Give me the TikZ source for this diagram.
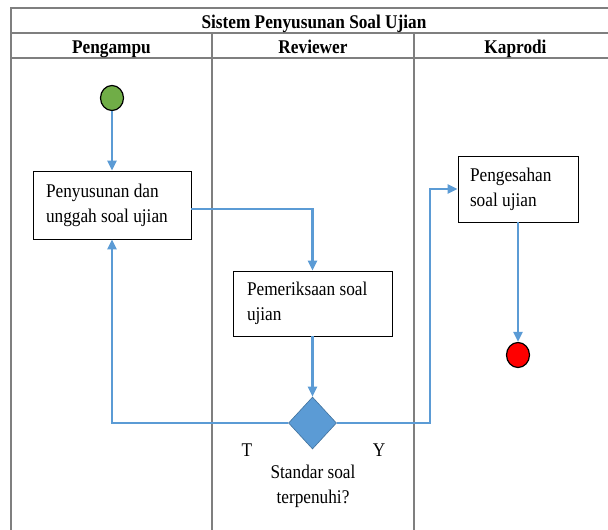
\documentclass[tikz,border=0pt]{standalone}
\usepackage{fontspec}
\setmainfont{Liberation Serif}[FakeStretch=0.89]
\usetikzlibrary{shapes.geometric,arrows.meta,calc}
\definecolor{flowblue}{HTML}{5B9BD5}
\definecolor{flowedge}{HTML}{41719C}
\definecolor{startgreen}{HTML}{70AD47}
\definecolor{lanegray}{HTML}{7F7F7F}
\begin{document}
\begin{tikzpicture}[x=1pt,y=-1pt,
  lane/.style={draw=lanegray,line width=1.1pt},
  txt/.style={font=\fontsize{19.4}{25}\selectfont,inner sep=0pt},
  head/.style={font=\fontsize{19.4}{25}\selectfont\bfseries,inner sep=0pt,
    anchor=base},
  stepbox/.style={draw=black,line width=0.8pt,fill=white,align=flush left,
    font=\fontsize{19.4}{25}\selectfont,inner ysep=0pt},
  terminal/.style={ellipse,draw=black,line width=1.2pt,minimum width=23pt,
    minimum height=25pt,inner sep=0pt},
  decision/.style={diamond,draw=flowedge,line width=0.6pt,fill=flowblue,
    minimum width=48pt,minimum height=52pt,inner sep=0pt},
  flow/.style={draw=flowblue,line width=2.2pt,
    -{Triangle[length=10pt,width=9pt]}}]
\useasboundingbox (0,0) rectangle (608,530);
\begin{scope}
\clip (0,0) rectangle (608,530);
% swimlane frame
\draw[lane] (11,530) -- (11,8) -- (620,8);
\draw[lane] (11,33) -- (620,33);
\draw[lane] (11,58) -- (620,58);
\draw[lane] (212,33) -- (212,530);
\draw[lane] (414,33) -- (414,530);
\end{scope}
% titles
\node[head] (title) at (314,28) {Sistem Penyusunan Soal Ujian};
\node[head] (lane1) at (111.5,53) {Pengampu};
\node[head] (lane2) at (313,53) {Reviewer};
\node[head] (lane3) at (515.5,53) {Kaprodi};
% activity nodes
\node[terminal,fill=startgreen] (start) at (112,98) {};
\node[stepbox,inner xsep=13pt,text width=132pt,minimum height=68pt]
  (b1) at (112,205) {Penyusunan dan\\unggah soal ujian};
\node[stepbox,inner xsep=14pt,text width=131pt,minimum height=65pt]
  (b2) at (312.5,303.5) {Pemeriksaan soal\\ujian};
\node[decision] (dec) at (312.5,423) {};
\node[stepbox,inner xsep=12pt,text width=96pt,minimum height=66pt]
  (b3) at (518,189) {Pengesahan\\soal ujian};
\node[terminal,fill=red] (end) at (518,355) {};
% labels
\node[txt] (tlab) at (247,450) {T};
\node[txt] (ylab) at (379,450) {Y};
\node[txt,align=center] (cond) at (313,486) {Standar soal\\terpenuhi?};
% connectors
\coordinate (ybend) at (430,423);
\draw[flow] (start) -- (b1);
\draw[flow] ([yshift=-4pt]b1.east) -| (b2.north);
\draw[flow] (b2) -- (dec);
\draw[flow] (dec.east) -- (ybend) |- (b3.west);
\draw[flow] (dec.west) -| (b1.south);
\draw[flow] (b3) -- (end);
\end{tikzpicture}
\end{document}
